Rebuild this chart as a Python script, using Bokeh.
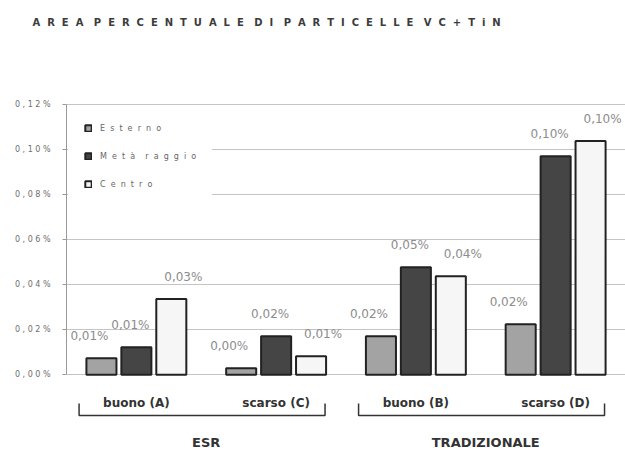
from bokeh.plotting import figure
from bokeh.models import (ColumnDataSource, FactorRange, FixedTicker,
                          CustomJSTickFormatter, Title)
from bokeh.transform import dodge
from bokeh.core.properties import value
from bokeh.embed import file_html
from bokeh.resources import INLINE

# ---------------------------------------------------------------- data
title_text = "AREA PERCENTUALE DI PARTICELLE VC+TiN"
groups = ["ESR", "ESR", "TRADIZIONALE", "TRADIZIONALE"]
conditions = ["buono (A)", "scarso (C)", "buono (B)", "scarso (D)"]
series_names = ["Esterno", "Metà raggio", "Centro"]

# area percentage (%) per position along the radius
esterno = [0.0073, 0.0029, 0.0171, 0.0224]
meta_raggio = [0.0122, 0.0171, 0.0478, 0.0971]
centro = [0.0336, 0.0082, 0.0438, 0.1038]

y_ticks = [0.00, 0.02, 0.04, 0.06, 0.08, 0.10, 0.12]

# ---------------------------------------------------------------- helpers
NBSP = "\u00a0"


def spaced(text, gap=2, word_gap=4):
    """Letter-spaced version of a string (wide tracking)."""
    words = text.split(" ")
    return (NBSP * word_gap).join((NBSP * gap).join(w) for w in words)


def pct_label(v):
    return f"{v:.2f}".replace(".", ",") + "%"


# vertical extent of the plotting frame (value units); the frame reaches
# below zero so the category labels and brackets can sit under the bars
Y_TOP = 0.1205
Y_BOTTOM = -0.039
FRAME_TOP_PX = 103
FRAME_H_PX = 462 - FRAME_TOP_PX
PX_PER_UNIT = FRAME_H_PX / (Y_TOP - Y_BOTTOM)


def px_to_y(px):
    return Y_TOP - (px - FRAME_TOP_PX) / PX_PER_UNIT


# ---------------------------------------------------------------- figure
factors = list(zip(groups, conditions))
x_range = FactorRange(*factors, range_padding=0, factor_padding=0,
                      group_padding=0)

p = figure(width=625, height=462, x_range=x_range,
           y_range=(Y_BOTTOM, Y_TOP), x_axis_location=None,
           toolbar_location=None, output_backend="svg",
           min_border_left=66, min_border_right=0,
           min_border_top=FRAME_TOP_PX, min_border_bottom=0,
           outline_line_color=None, background_fill_color="white",
           title=spaced(title_text, gap=2, word_gap=3))

p.title.align = "left"
p.title.offset = -34
p.title.standoff = 28
p.title.text_font = "DejaVu Sans"
p.title.text_font_style = "bold"
p.title.text_font_size = "10px"
p.title.text_color = "#3c3c3c"

# empty band between the title and the plotting area
p.add_layout(Title(text=" ", text_font_size="10px", standoff=49), "above")

# y axis
p.yaxis.ticker = FixedTicker(ticks=y_ticks)
p.yaxis.bounds = (0, 0.12)
p.yaxis.formatter = CustomJSTickFormatter(
    code="return (tick.toFixed(2).replace('.', ',') + '%')"
         ".split('').join('\\u00a0');")
p.yaxis.major_label_text_font = "DejaVu Sans"
p.yaxis.major_label_text_font_size = "8px"
p.yaxis.major_label_text_color = "#6e6e6e"
p.yaxis.major_label_standoff = 12
p.yaxis.major_tick_out = 4
p.yaxis.major_tick_in = 0
p.yaxis.major_tick_line_color = "#9a9a9a"
p.yaxis.minor_tick_line_color = None
p.yaxis.axis_line_color = "#9a9a9a"

p.ygrid.ticker = FixedTicker(ticks=y_ticks)
p.ygrid.grid_line_color = "#c4c4c4"
p.xgrid.grid_line_color = None

# ---------------------------------------------------------------- bars
source = ColumnDataSource(dict(
    cat=factors,
    esterno=esterno, meta=meta_raggio, centro=centro,
    esterno_lab=[pct_label(v) for v in esterno],
    meta_lab=[pct_label(v) for v in meta_raggio],
    centro_lab=[pct_label(v) for v in centro],
))

styles = [
    # column, name, fill, dodge offset, label x shift (px)
    ("esterno", series_names[0], "#a3a3a3", -0.25, -12),
    ("meta", series_names[1], "#454545", 0.0, -6),
    ("centro", series_names[2], "#f6f6f6", 0.25, 12),
]

for key, name, fill, off, dx in styles:
    p.vbar(x=dodge("cat", off, range=p.x_range), top=key, width=0.215,
           source=source, fill_color=fill, line_color="#222222",
           line_width=2, legend_label=spaced(name))
    p.text(x=dodge("cat", off, range=p.x_range), y=key, text=key + "_lab",
           source=source, x_offset=dx, y_offset=-22, text_align="center",
           text_baseline="middle", text_font=value("DejaVu Sans"),
           text_font_size="12px", text_color="#8c8c8c")

# ---------------------------------------------------------------- legend
legend = p.legend[0]
legend.location = "top_left"
legend.margin = 2
legend.padding = 15
legend.glyph_width = 8
legend.glyph_height = 8
legend.label_height = 14
legend.spacing = 14
legend.label_standoff = 8
legend.label_text_font = "DejaVu Sans"
legend.label_text_font_size = "8px"
legend.label_text_color = "#666666"
legend.border_line_color = "white"
legend.background_fill_color = "white"
legend.background_fill_alpha = 1.0

# ---------------------------------------------------------------- category labels
p.text(x=factors, y=[px_to_y(402)] * len(factors), text=conditions,
       text_align="center", text_baseline="middle",
       text_font=value("DejaVu Sans"), text_font_style="bold",
       text_font_size="12px", text_color="#333333")

group_names = ["ESR", "TRADIZIONALE"]
p.text(x=group_names, y=[px_to_y(442)] * 2, text=group_names,
       text_align="center", text_baseline="middle",
       text_font=value("DejaVu Sans"), text_font_style="bold",
       text_font_size="13px", text_color="#333333")

# brackets joining the conditions of each process
y_hi, y_lo = px_to_y(403), px_to_y(415)
left_inset, right_inset = 0.09, 0.15
bracket_xs, bracket_ys = [], []
for i, g in enumerate(group_names):
    x0 = 2 * i + left_inset
    x1 = 2 * (i + 1) - right_inset
    bracket_xs.append([x0, x0, x1, x1])
    bracket_ys.append([y_hi, y_lo, y_lo, y_hi])
p.multi_line(xs=bracket_xs, ys=bracket_ys, line_color="#333333",
             line_width=1.5)

open("out.html", "w").write(file_html(p, INLINE))
